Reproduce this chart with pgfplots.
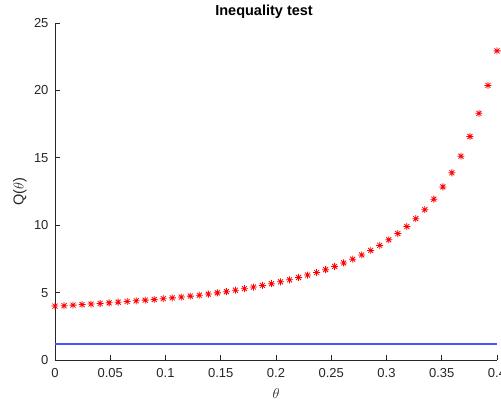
\documentclass[border=0pt]{standalone}
\usepackage{pgfplots}
\pgfplotsset{compat=1.18}
\usepackage{fontspec}
\setmainfont{Liberation Sans}

\definecolor{axgray}{RGB}{38,38,38}
\definecolor{mblue}{RGB}{80,80,255}

% MATLAB-like '*' marker: plus and cross together
\pgfdeclareplotmark{ast8}{%
  \pgfpathmoveto{\pgfpointpolar{0}{\pgfplotmarksize}}\pgfpathlineto{\pgfpointpolar{180}{\pgfplotmarksize}}
  \pgfpathmoveto{\pgfpointpolar{90}{\pgfplotmarksize}}\pgfpathlineto{\pgfpointpolar{270}{\pgfplotmarksize}}
  \pgfpathmoveto{\pgfpointpolar{45}{\pgfplotmarksize}}\pgfpathlineto{\pgfpointpolar{225}{\pgfplotmarksize}}
  \pgfpathmoveto{\pgfpointpolar{135}{\pgfplotmarksize}}\pgfpathlineto{\pgfpointpolar{315}{\pgfplotmarksize}}
  \pgfusepathqstroke}

\begin{document}
\begin{tikzpicture}
\begin{axis}[
    name=ax,
    scale only axis,
    width=442pt, height=337pt,
    xmin=0, xmax=0.4,
    ymin=0, ymax=25,
    xtick={0,0.05,...,0.4},
    ytick={0,5,10,15,20,25},
    axis x line*=bottom,
    axis y line*=left,
    axis line style={axgray, line width=0.6pt},
    tick style={axgray, line width=0.6pt},
    tick align=inside,
    major tick length=5pt,
    ticklabel style={font=\fontsize{13}{15}\selectfont, text=axgray},
    xticklabel style={yshift=-5pt},
    yticklabel style={xshift=-3pt},
    /pgf/number format/assume math mode=true,
    /pgf/number format/fixed,
    clip=false,
    every axis title shift=0pt,
    title={\textbf{Inequality test}},
    title style={font=\fontsize{14.5}{17}\selectfont, at={(axis description cs:0.473,1.0326)}, anchor=center, yshift=0pt},
    xlabel={$\theta$},
    xlabel style={font=\fontsize{14.5}{17}\selectfont, text=axgray, at={(axis description cs:0.5,-0.098)}, anchor=center},
    ylabel={Q($\theta$)},
    ylabel style={font=\fontsize{14.5}{17}\selectfont, text=axgray, at={(axis description cs:-0.0792,0.5)}, anchor=center},
]
\addplot[mblue, line width=1.5pt, mark=none] table {
x y
0 1.2
0.4 1.2
};
\addplot[color=red, only marks, mark=ast8, mark size=3.5pt, line width=0.8pt] coordinates {
(0.00000,4.00)(0.00816,4.03)(0.01633,4.07)(0.02449,4.11)(0.03265,4.15)
(0.04082,4.19)(0.04898,4.24)(0.05714,4.29)(0.06531,4.34)(0.07347,4.39)
(0.08163,4.44)(0.08980,4.49)(0.09796,4.55)(0.10612,4.61)(0.11429,4.67)
(0.12245,4.74)(0.13061,4.81)(0.13878,4.89)(0.14694,4.98)(0.15510,5.07)
(0.16327,5.18)(0.17143,5.29)(0.17959,5.41)(0.18776,5.53)(0.19592,5.66)
(0.20408,5.80)(0.21224,5.95)(0.22041,6.12)(0.22857,6.30)(0.23673,6.49)
(0.24490,6.70)(0.25306,6.94)(0.26122,7.20)(0.26939,7.48)(0.27755,7.79)
(0.28571,8.13)(0.29388,8.50)(0.30204,8.92)(0.31020,9.38)(0.31837,9.90)
(0.32653,10.48)(0.33469,11.15)(0.34286,11.93)(0.35102,12.84)(0.35918,13.89)
(0.36735,15.12)(0.37551,16.58)(0.38367,18.30)(0.39184,20.37)(0.40000,22.93)
};
\end{axis}
\pgfresetboundingbox
\path[use as bounding box] ([xshift=-55pt,yshift=-41pt]ax.south west) rectangle ([xshift=4pt,yshift=23pt]ax.north east);
\end{tikzpicture}
\end{document}
